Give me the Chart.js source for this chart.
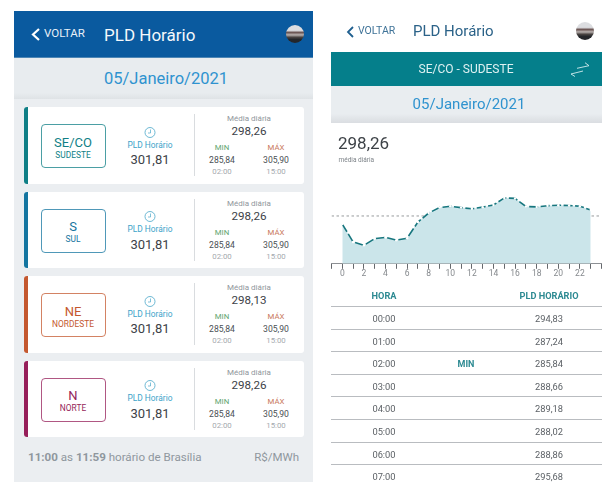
<!DOCTYPE html>
<html>
<head>
<meta charset="utf-8">
<title>PLD Horário</title>
<script src="https://cdn.jsdelivr.net/npm/chart.js@4"></script>
<style>
  html, body { margin: 0; padding: 0; background: #fff; }
  #page { position: relative; width: 610px; height: 497px; overflow: hidden; font-family: Roboto, sans-serif; filter: blur(0.3px); }
  .box { position: absolute; box-sizing: border-box; }
  .t { position: absolute; white-space: nowrap; line-height: 1; }
  #chartWrap { position: absolute; left: 321px; top: 176px; width: 289px; height: 103px; }
</style>
</head>
<body>
<div id="page"></div>
<script>
// chart values
const hours = [0,1,2,3,4,5,6,7,8,9,10,11,12,13,14,15,16,17,18,19,20,21,22,23];
const pldValues = [294.83,287.24,285.84,288.66,289.18,288.02,288.86,295.68,299.5,301.8,302.4,301.8,301.3,302.0,302.9,305.9,305.7,302.3,302.1,302.6,302.8,302.7,302.4,300.8];
const dailyMean = 298.26;

// table rows on the right
const tableHours = ['00:00','01:00','02:00','03:00','04:00','05:00','06:00','07:00'];
const tableValues = ['294,83','287,24','285,84','288,66','289,18','288,02','288,86','295,68'];

// cards on the left
const cardCodes = ['SE/CO','S','NE','N'];
const cardNames = ['SUDESTE','SUL','NORDESTE','NORTE'];
const cardMeans = ['298,26','298,26','298,13','298,26'];
const cardColors = ['#0f7f86','#1475a0','#c4582f','#961f5a'];
const cardTops = [107,191.5,276,360.5];

const page = document.getElementById('page');

const box = (x, y, w, h, css) => {
    const d = document.createElement('div');
    d.className = 'box';
    d.style.cssText = `left:${x}px;top:${y}px;width:${w}px;height:${h}px;${css || ''}`;
    page.appendChild(d);
    return d;
};

// y is the vertical middle of the text, align is l, c or r around x
const txt = (str, x, y, size, color, align, weight) => {
    const d = document.createElement('div');
    d.className = 't';
    d.innerHTML = str;
    const tx = align === 'c' ? '-50%' : align === 'r' ? '-100%' : '0';
    d.style.cssText = `left:${x}px;top:${y}px;font-size:${size}px;color:${color};font-weight:${weight || 400};transform:translate(${tx},-50%);`;
    page.appendChild(d);
};

const svg = (x, y, w, h, inner) => {
    const d = box(x, y, w, h);
    d.innerHTML = `<svg width="${w}" height="${h}" viewBox="0 0 ${w} ${h}">${inner}</svg>`;
};

const avatar = (cx, cy) => {
    box(cx - 9, cy - 9, 18, 18, 'border-radius:50%;overflow:hidden;background:linear-gradient(#dcdde0 0,#dcdde0 30%,#6a5452 42%,#b9b2b0 55%,#4a4442 68%,#24262a 80%,#24262a 100%);');
};

// left panel
box(14, 11, 299, 471, 'background:#ebeef1;');
box(14, 11, 299, 47, 'background:#0a5a9f;border-bottom:1px solid #4d86b5;');
box(14, 58, 299, 41, 'background:linear-gradient(#e8ecef 0,#e8ecef 85%,#dfe3e6 100%);');
svg(30, 27, 11, 15, '<path d="M9 2 L3 7.5 L9 13" fill="none" stroke="#fff" stroke-width="2.2"/>');
txt('VOLTAR', 44, 34, 11.5, '#e8f0f7');
txt('PLD Horário', 104, 34.5, 17, '#f4f8fb');
avatar(295, 34);
txt('05/Janeiro/2021', 166, 79, 16.5, '#2f93cf', 'c');

cardTops.forEach((top, i) => {
    const color = cardColors[i];
    box(24, top, 280, 76.5, 'background:#fff;border-radius:3px;');
    box(24, top, 4, 76.5, `background:${color};border-radius:3px 0 0 3px;`);
    box(40.5, top + 17, 65.5, 44, `border:1px solid ${color};border-radius:4px;opacity:.75;`);
    txt(cardCodes[i], 73, top + 34.5, 13, color, 'c');
    txt(cardNames[i], 73, top + 47.5, 8.4, color, 'c');
    svg(144, top + 16.5, 12, 13, '<circle cx="6" cy="6.5" r="5" fill="none" stroke="#4aa7c9" stroke-width=".8"/><path d="M6.5 3.5 V7 H4" fill="none" stroke="#4aa7c9" stroke-width=".7"/>');
    txt('PLD Horário', 150, top + 37.5, 8.4, '#3da3c9', 'c');
    txt('301,81', 150, top + 52, 13, '#3d4247', 'c');
    box(194, top + 7, 1, 62, 'background:#d9dcdf;');
    txt('Média diária', 249, top + 12, 8, '#8f969c', 'c');
    txt(cardMeans[i], 249, top + 25, 11.6, '#3d4247', 'c');
    txt('MIN', 222, top + 41, 7.8, '#5fa56f', 'c');
    txt('MÁX', 276, top + 41, 7.8, '#c9775c', 'c');
    txt('285,84', 222, top + 53, 8.6, '#4a4f54', 'c');
    txt('305,90', 276, top + 53, 8.6, '#4a4f54', 'c');
    txt('02:00', 222, top + 65, 7.8, '#a4a9ae', 'c');
    txt('15:00', 276, top + 65, 7.8, '#a4a9ae', 'c');
});

txt('<b style="font-weight:700">11:00</b> as <b style="font-weight:700">11:59</b> horário de Brasília', 28, 457.5, 11.6, '#8f979e');
txt('R$/MWh', 299, 457.5, 11.5, '#8f979e', 'r');

// right panel
svg(345, 24, 10, 14, '<path d="M8 2 L3 7 L8 12" fill="none" stroke="#1f5f8f" stroke-width="1.8"/>');
txt('VOLTAR', 358, 31, 10.5, '#3f7398');
txt('PLD Horário', 413, 31, 15, '#2b6288');
avatar(585, 31);
box(331, 52, 271, 33.5, 'background:#057f8b;');
txt('SE/CO - SUDESTE', 466, 69, 12, '#dff1f2', 'c');
svg(570, 61, 21, 17, '<path d="M1 13 L13 10 M1 13 L5 15.5 M7 7.3 L19 4.7 M19 4.7 L15 1.7" fill="none" stroke="#d3ecee" stroke-width=".9"/>');
box(331, 85.5, 271, 37, 'background:linear-gradient(#e9edf0 0,#e9edf0 75%,#dadde1 100%);');
txt('05/Janeiro/2021', 469, 104, 15, '#2f93cf', 'c');
txt('298,26', 338, 142.5, 17, '#3d4247');
txt('média diária', 338.5, 160, 6.5, '#7d8388');

txt('HORA', 384, 296, 9.2, '#2d8a92', 'c', 700);
txt('PLD HORÁRIO', 549, 296, 9.2, '#2d8a92', 'c', 700);
box(331, 305.5, 271, 1, 'background:#b9bcc0;');
tableHours.forEach((h, i) => {
    const y = 319 + i * 22.6;
    txt(h, 384, y, 9.3, '#5c6166', 'c');
    txt(tableValues[i], 549, y, 9.3, '#5c6166', 'c');
    if (h === '02:00') txt('MIN', 466, y, 9, '#2d8a92', 'c', 700);
    if (i < 7) box(331, y + 9.6, 271, 1, 'background:#b9bcc0;');
});

// chart
const wrap = document.createElement('div');
wrap.id = 'chartWrap';
wrap.innerHTML = '<canvas id="pldChart"></canvas>';
page.appendChild(wrap);

const ctx = document.getElementById('pldChart').getContext('2d');
new Chart(ctx, {
    type: 'line',
    data: {
        datasets: [
            {
                data: hours.map((h, i) => ({ x: h, y: pldValues[i] })),
                borderColor: '#17767e',
                borderWidth: 1.6,
                borderDash: [9, 2.5],
                backgroundColor: '#cbe5ea',
                fill: 'start',
                tension: 0,
                pointRadius: 1.2,
                pointBorderWidth: 0,
                pointBackgroundColor: '#fff'
            },
            {
                data: [{ x: -1, y: dailyMean }, { x: 24, y: dailyMean }],
                borderColor: '#8b8f92',
                borderWidth: 0.9,
                borderDash: [2.5, 2.5],
                pointRadius: 0,
                fill: false
            }
        ]
    },
    options: {
        responsive: true,
        maintainAspectRatio: false,
        animation: false,
        layout: { padding: { left: 10.5, right: 8.5, top: 0, bottom: 0 } },
        plugins: { legend: { display: false }, tooltip: { enabled: false } },
        scales: {
            x: {
                type: 'linear',
                min: -1,
                max: 24,
                border: { color: '#8d9094', width: 1 },
                grid: {
                    drawOnChartArea: false,
                    drawTicks: true,
                    tickLength: 5,
                    color: '#66696d'
                },
                ticks: {
                    stepSize: 1,
                    autoSkip: false,
                    maxRotation: 0,
                    padding: 0,
                    color: '#85898d',
                    font: { family: 'Roboto', size: 8.5 },
                    callback: (v) => (v >= 0 && v <= 22 && v % 2 === 0) ? String(v) : ''
                }
            },
            y: {
                display: false,
                min: 278,
                max: 313.5
            }
        }
    }
});
</script>
</body>
</html>
